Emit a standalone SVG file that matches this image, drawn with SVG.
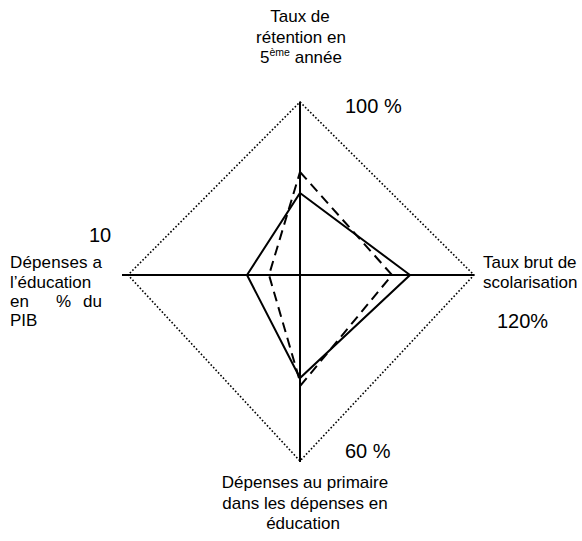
<svg xmlns="http://www.w3.org/2000/svg" width="582" height="541" viewBox="0 0 582 541">
<style>
text{font-family:"Liberation Sans",Arial,sans-serif;fill:#000}
.lab{font-size:17px}
.num{font-size:20px}
.axis{stroke:#000;stroke-width:2;fill:none}
.frame{stroke:#000;stroke-width:1.6;stroke-dasharray:1.6 2;fill:none}
.solid{stroke:#000;stroke-width:2;fill:none;stroke-linejoin:miter}
.dash{stroke:#000;stroke-width:2;fill:none;stroke-dasharray:10 6}
</style>
<rect width="582" height="541" fill="#fff"/>
<g id="connectors">
<polygon class="frame" points="300,102 474,275 300,461 128,275"/>
<line class="axis" x1="122" y1="275" x2="474" y2="275"/>
<line class="axis" x1="300" y1="102" x2="300" y2="462"/>
<polygon class="solid" points="300,193 410,275 300,378 247,275"/>
<polygon class="dash" points="300,172 392,275 301,385 269,275"/>
</g>
<g id="top-label">
<text class="lab" text-anchor="middle" x="300" y="22">Taux de</text>
<text class="lab" text-anchor="middle" x="301" y="43">rétention en</text>
<text class="lab" text-anchor="middle" x="301" y="63">5<tspan font-size="10.5" dy="-7">ème</tspan><tspan dy="7"> année</tspan></text>
</g>
<g id="top-value"><text class="num" x="345" y="113">100 %</text></g>
<g id="right-label">
<text class="lab" x="483" y="268">Taux brut de</text>
<text class="lab" x="483" y="288">scolarisation</text>
</g>
<g id="right-value"><text class="num" x="497" y="328">120%</text></g>
<g id="left-value"><text class="num" x="89" y="242">10</text></g>
<g id="left-label">
<text class="lab" x="10" y="268" textLength="92" lengthAdjust="spacing">Dépenses a</text>
<text class="lab" x="10" y="288">l’éducation</text>
<text class="lab" y="307"><tspan x="10">en</tspan> <tspan x="56">%</tspan> <tspan x="83">du</tspan></text>
<text class="lab" x="10" y="326">PIB</text>
</g>
<g id="bottom-value"><text class="num" x="345" y="458">60 %</text></g>
<g id="bottom-label">
<text class="lab" text-anchor="middle" x="305" y="488">Dépenses au primaire</text>
<text class="lab" text-anchor="middle" x="305" y="509">dans les dépenses en</text>
<text class="lab" text-anchor="middle" x="303" y="529">éducation</text>
</g>
</svg>
